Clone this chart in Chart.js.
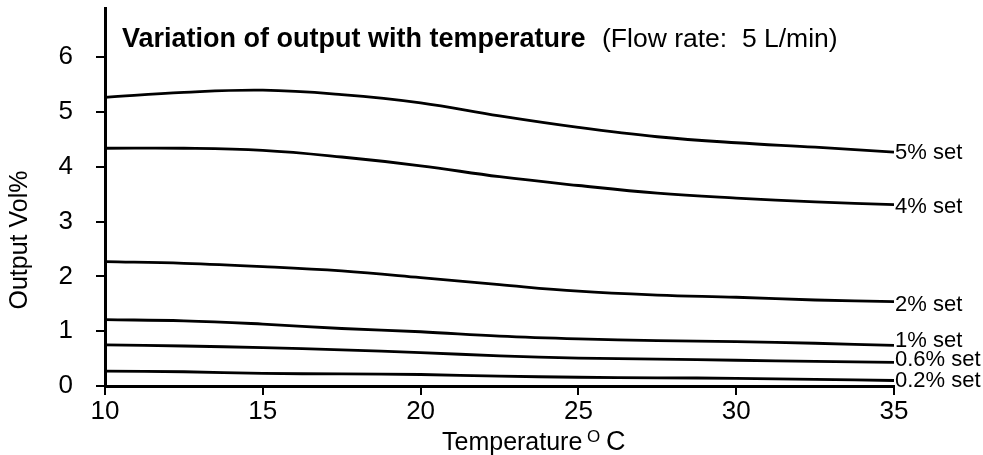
<!DOCTYPE html>
<html>
<head>
<meta charset="utf-8">
<script src="https://cdn.jsdelivr.net/npm/chart.js@4/dist/chart.umd.min.js"></script>
<style>
  html, body { margin: 0; padding: 0; background: #fff; }
</style>
</head>
<body>
<canvas id="chart" width="983" height="455"></canvas>
<script>
// temperatures (deg C) where the curves were read
const temps = [10, 12.5, 15, 17.5, 20, 22.5, 25, 27.5, 30, 32.5, 35];

// output Vol% for each dial setting
const set5 = [5.27, 5.36, 5.40, 5.32, 5.17, 4.93, 4.72, 4.55, 4.44, 4.36, 4.27];
const set4 = [4.34, 4.34, 4.30, 4.18, 4.02, 3.82, 3.66, 3.52, 3.43, 3.36, 3.31];
const set2 = [2.27, 2.24, 2.18, 2.10, 1.98, 1.85, 1.73, 1.66, 1.62, 1.57, 1.54];
const set1 = [1.21, 1.19, 1.13, 1.05, 0.99, 0.91, 0.86, 0.83, 0.81, 0.78, 0.74];
const set06 = [0.75, 0.73, 0.70, 0.66, 0.61, 0.55, 0.51, 0.49, 0.47, 0.45, 0.43];
const set02 = [0.27, 0.26, 0.23, 0.22, 0.21, 0.18, 0.16, 0.15, 0.14, 0.12, 0.10];

const seriesNames = ["5% set", "4% set", "2% set", "1% set", "0.6% set", "0.2% set"];
const xTicks = [10, 15, 20, 25, 30, 35];
const yTicks = [0, 1, 2, 3, 4, 5, 6];

const FONT = '"Liberation Sans", Arial, Helvetica, sans-serif';
const allSeries = [set5, set4, set2, set1, set06, set02];
// small vertical nudges of the end labels (px)
const labelShift = [1, 2, 3, -5, -3, 0];

const textPlugin = {
  id: "texts",
  afterDraw(chart) {
    const ctx = chart.ctx;
    const area = chart.chartArea;
    ctx.save();
    ctx.fillStyle = "#000";
    ctx.textAlign = "left";
    ctx.textBaseline = "alphabetic";

    ctx.font = "bold 27px " + FONT;
    ctx.fillText("Variation of output with temperature", 122, 47);
    ctx.font = "26.5px " + FONT;
    ctx.fillText("(Flow rate:  5 L/min)", 602, 47);

    // x title with superscript O
    ctx.font = "25px " + FONT;
    ctx.fillText("Temperature", 442, 450);
    ctx.font = "17px " + FONT;
    ctx.fillText("O", 587, 442);
    ctx.font = "27px " + FONT;
    ctx.fillText("C", 606, 450);

    // y title
    ctx.save();
    ctx.translate(27, 240);
    ctx.rotate(-Math.PI / 2);
    ctx.textAlign = "center";
    ctx.font = "25px " + FONT;
    ctx.fillText("Output Vol%", 0, 0);
    ctx.restore();

    // end-of-line labels
    ctx.font = "22px " + FONT;
    ctx.textBaseline = "middle";
    chart.data.datasets.forEach((ds, i) => {
      const pts = chart.getDatasetMeta(i).data;
      const last = pts[pts.length - 1];
      ctx.fillText(ds.label, area.right + 1, last.y + labelShift[i]);
    });
    ctx.restore();
  }
};

const datasets = allSeries.map((vals, i) => ({
  label: seriesNames[i],
  data: temps.map((t, j) => ({ x: t, y: vals[j] })),
  borderColor: "#000",
  borderWidth: 2.8,
  pointRadius: 0,
  fill: false,
  tension: 0.4
}));

new Chart(document.getElementById("chart").getContext("2d"), {
  type: "line",
  data: { datasets: datasets },
  plugins: [textPlugin],
  options: {
    responsive: false,
    animation: false,
    devicePixelRatio: 1,
    layout: { padding: { top: 8, right: 89, left: 0, bottom: 0 } },
    plugins: {
      legend: { display: false },
      tooltip: { enabled: false }
    },
    scales: {
      x: {
        type: "linear",
        min: 10,
        max: 35,
        afterBuildTicks: (s) => { s.ticks = xTicks.map(v => ({ value: v })); },
        afterFit: (s) => { s.height = 69; s.paddingLeft = 0; s.paddingRight = 0; },
        ticks: {
          color: "#000",
          padding: 1,
          maxRotation: 0,
          font: { family: FONT, size: 26 }
        },
        grid: { drawOnChartArea: false, drawTicks: true, tickLength: 9, color: "#000", lineWidth: 2 },
        border: { display: true, color: "#000", width: 3 }
      },
      y: {
        min: 0,
        max: 6.9,
        afterBuildTicks: (s) => { s.ticks = yTicks.map(v => ({ value: v })); },
        afterFit: (s) => { s.width = 105; s.paddingTop = 0; s.paddingBottom = 0; },
        ticks: {
          color: "#000",
          padding: 23,
          font: { family: FONT, size: 26 }
        },
        grid: { drawOnChartArea: false, drawTicks: true, tickLength: 9, color: "#000", lineWidth: 2 },
        border: { display: true, color: "#000", width: 3 }
      }
    }
  }
});
</script>
</body>
</html>
